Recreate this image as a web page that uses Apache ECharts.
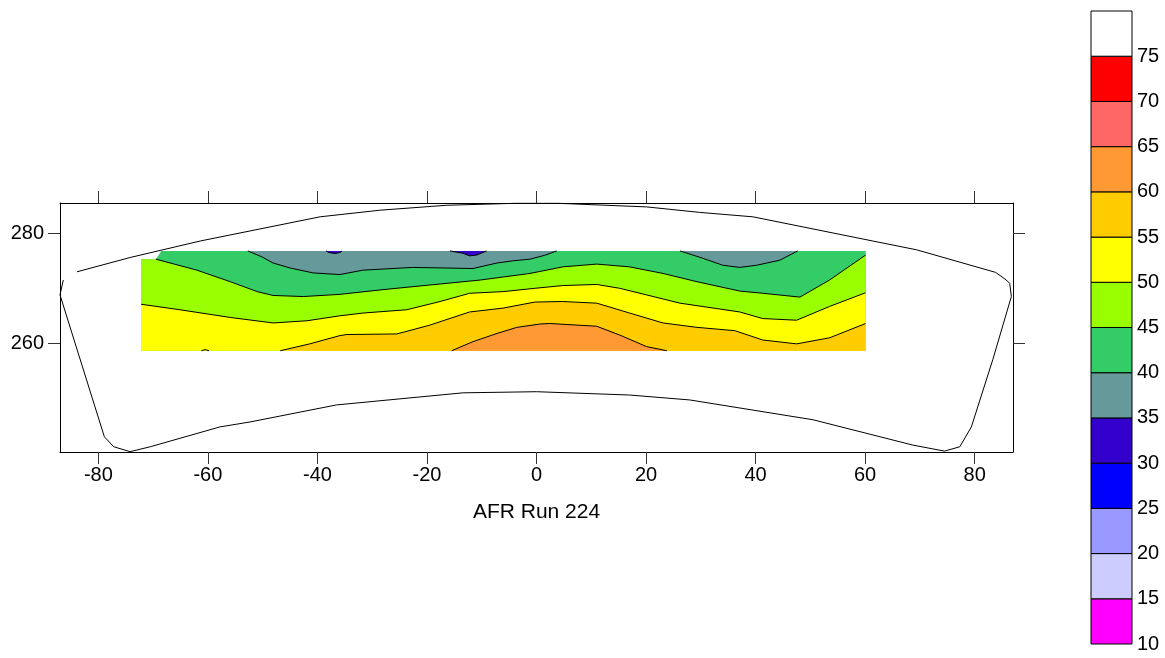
<!DOCTYPE html>
<html><head><meta charset="utf-8">
<script src="https://cdn.jsdelivr.net/npm/echarts@6/dist/echarts.min.js"></script>
<style>html,body{margin:0;padding:0;background:#fff}#c{width:1165px;height:658px}</style>
</head><body><div id="c"></div>
<script>
// ---- axes ----
const xTicks = [-80, -60, -40, -20, 0, 20, 40, 60, 80];
const yTicks = [260, 280];
const xRange = [-87, 87];
const yRange = [240.24, 285.51];
const xTitle = 'AFR Run 224';

// ---- colour scale ----
const levels = [10, 15, 20, 25, 30, 35, 40, 45, 50, 55, 60, 65, 70, 75, 80];
const levelColors = ['#FF00FF', '#CCCCFF', '#9999FF', '#0000FF', '#3300CC', '#669999', '#33CC66',
                     '#99FF00', '#FFFF00', '#FFCC00', '#FF9933', '#FF6666', '#FF0000', '#FFFFFF'];

// ---- extent of gridded data ----
const dataX = [-72.2, 60.1];
const dataY = [258.65, 276.8];
const notch = [[-72.2, 275.3], [-69.5, 275.3], [-68.5, 276.8]];

// ---- contour lines (x, y) ----
const c35a = [[-38.4, 276.8], [-37.9, 276.5], [-36.8, 276.33], [-35.9, 276.5], [-35.5, 276.8]];
const c35b = [[-15.8, 276.8], [-13.4, 276.36], [-12.2, 275.9], [-10.9, 276.05], [-9.1, 276.8]];
const c40a = [[-52.7, 276.8], [-50.1, 275.7], [-48.1, 274.6], [-45.0, 273.7], [-40.8, 272.8], [-35.9, 272.5],
              [-31.7, 273.3], [-22.6, 273.8], [-11.6, 273.6], [-7.2, 274.6], [-4.3, 275.0], [-1.2, 275.3],
              [1.5, 276.0], [3.7, 276.8]];
const c40b = [[26.2, 276.8], [30.4, 275.45], [34.0, 274.2], [37.1, 273.8], [40.2, 274.2], [44.4, 275.1], [47.7, 276.8]];
const c45 = [[-69.5, 275.3], [-62.0, 273.3], [-55.9, 271.2], [-51.0, 269.4], [-48.1, 268.7], [-42.6, 268.5],
             [-35.9, 268.9], [-28.6, 269.7], [-19.5, 270.6], [-10.3, 271.5], [-1.2, 272.7], [4.8, 273.9],
             [11.0, 274.4], [17.0, 273.9], [23.1, 272.7], [29.3, 271.2], [37.1, 269.5], [41.3, 269.1],
             [48.1, 268.4], [53.5, 271.5], [60.1, 276.05]];
const c50 = [[-72.2, 267.1], [-65.1, 266.1], [-55.9, 264.7], [-48.1, 263.7], [-41.9, 264.1], [-35.9, 265.0],
             [-31.7, 265.5], [-23.7, 266.1], [-17.6, 267.6], [-12.2, 269.1], [-6.1, 269.4], [-0.3, 270.0],
             [4.8, 270.5], [11.0, 270.7], [15.2, 270.0], [20.1, 268.8], [26.2, 267.3], [37.1, 265.7],
             [41.3, 264.5], [47.5, 264.2], [53.5, 266.7], [60.1, 269.2]];
const c55 = [[-46.8, 258.65], [-41.4, 259.9], [-35.9, 261.4], [-34.6, 261.6], [-25.5, 261.7], [-19.5, 263.3],
             [-12.2, 265.7], [-6.1, 266.4], [-0.3, 267.5], [4.8, 267.6], [11.0, 267.3], [17.0, 265.5],
             [23.1, 263.7], [29.3, 262.9], [36.2, 262.3], [41.3, 260.6], [47.5, 259.9], [53.5, 261.0],
             [60.1, 263.6]];
const c55b = [[-61.2, 258.65], [-60.5, 258.85], [-59.8, 258.65]];
const c60 = [[-15.5, 258.65], [-11.6, 260.3], [-7.2, 261.8], [-3.6, 262.9], [0.6, 263.5], [2.4, 263.6],
             [11.0, 263.1], [15.2, 261.5], [20.1, 259.4], [23.8, 258.65]];

// ---- outline of the measured region ----
const outline = [[-83.9, 273.0], [-74.2, 275.6], [-61.4, 278.6], [-39.5, 283.0], [-28.6, 284.2], [-16.4, 285.1],
                 [-4, 285.45], [4, 285.45], [20.1, 284.8], [29.8, 283.8], [39.5, 283.0], [61.4, 278.6],
                 [69.4, 277.0], [83.8, 272.9], [85.8, 271.5], [86.4, 270.9], [86.7, 268.5], [83.3, 257.0],
                 [79.4, 244.8], [77.3, 241.2], [74.5, 240.4], [68.7, 241.5], [50.5, 246.1], [28.0, 249.7],
                 [17.0, 250.6], [0, 251.2], [-13.4, 251.0], [-36.5, 248.8], [-52.3, 245.7], [-57.8, 244.8],
                 [-70.5, 241.2], [-74.2, 240.3], [-77.2, 241.2], [-78.9, 243.0], [-87.0, 268.8], [-86.4, 271.5]];

// ---- build fill polygons (painter's order) ----
function colorOf(lo) { return levelColors[levels.indexOf(lo)]; }
const [x0, x1] = dataX, [y0, y1] = dataY;
const basePoly = notch.concat([[x1, y1], [x1, y0], [x0, y0]]);
const fills = [
  { pts: basePoly, color: colorOf(40) },
  { pts: c40a, color: colorOf(35) },
  { pts: c40b, color: colorOf(35) },
  { pts: c35a, color: colorOf(30) },
  { pts: c35b, color: colorOf(30) },
  { pts: c45.concat([[x1, y0], [x0, y0], notch[0]]), color: colorOf(45) },
  { pts: c50.concat([[x1, y0], [x0, y0]]), color: colorOf(50) },
  { pts: c55.concat([[x1, y0]]), color: colorOf(55) },
  { pts: c60, color: colorOf(60) }
];
const contourLines = [c35a, c35b, c40a, c40b, c45, c50, c55, c55b, c60];

const FONT = 'Liberation Sans, Arial, sans-serif';
const chart = echarts.init(document.getElementById('c'), null, { renderer: 'canvas' });

const lineSeries = contourLines.map(d => ({
  type: 'line', xAxisIndex: 0, yAxisIndex: 0, data: d, symbol: 'none', silent: true, z: 4,
  lineStyle: { color: '#000', width: 1 }, clip: false, animation: false
}));

chart.setOption({
  animation: false,
  grid: [
    { left: 60, top: 203, width: 953, height: 249 },
    { left: 1091, top: 11, width: 41, height: 633 }
  ],
  xAxis: [
    { gridIndex: 0, type: 'value', min: xRange[0], max: xRange[1], position: 'bottom',
      axisLine: { show: true, onZero: false, lineStyle: { color: '#000', width: 1 } },
      axisTick: { show: true, customValues: xTicks, length: 12, lineStyle: { color: '#333' } },
      axisLabel: { customValues: xTicks, fontSize: 20, margin: 13, color: '#000', fontFamily: FONT },
      splitLine: { show: false },
      name: xTitle, nameLocation: 'middle', nameGap: 50,
      nameTextStyle: { fontSize: 21, color: '#000', fontFamily: FONT } },
    { gridIndex: 0, type: 'value', min: xRange[0], max: xRange[1], position: 'top',
      axisLine: { show: true, onZero: false, lineStyle: { color: '#000', width: 1 } },
      axisTick: { show: true, customValues: xTicks, length: 12, lineStyle: { color: '#333' } },
      axisLabel: { show: false }, splitLine: { show: false } },
    { gridIndex: 1, type: 'value', min: 0, max: 1, show: false }
  ],
  yAxis: [
    { gridIndex: 0, type: 'value', min: yRange[0], max: yRange[1], position: 'left',
      axisLine: { show: true, onZero: false, lineStyle: { color: '#000', width: 1 } },
      axisTick: { show: true, customValues: yTicks, length: 12, lineStyle: { color: '#333' } },
      axisLabel: { customValues: yTicks, fontSize: 20, margin: 16, color: '#000', fontFamily: FONT,
                   padding: [5, 0, 0, 0] },
      splitLine: { show: false } },
    { gridIndex: 0, type: 'value', min: yRange[0], max: yRange[1], position: 'right',
      axisLine: { show: true, onZero: false, lineStyle: { color: '#000', width: 1 } },
      axisTick: { show: true, customValues: yTicks, length: 12, lineStyle: { color: '#333' } },
      axisLabel: { show: false }, splitLine: { show: false } },
    { gridIndex: 1, type: 'value', min: levels[0], max: levels[levels.length - 1], interval: 5, position: 'right',
      axisLine: { show: false }, axisTick: { show: false }, splitLine: { show: false },
      axisLabel: { fontSize: 20, margin: 5, color: '#000', fontFamily: FONT, padding: [4, 0, 0, 0],
        formatter: v => (v === levels[levels.length - 1] ? '' : String(v)) } }
  ],
  series: [
    { type: 'custom', xAxisIndex: 0, yAxisIndex: 0, silent: true, z: 2, clip: false,
      data: fills.map((f, i) => [i]),
      encode: { x: 0 },
      renderItem: (params, api) => {
        const f = fills[params.dataIndex];
        return { type: 'polygon', shape: { points: f.pts.map(p => api.coord(p)) },
                 style: { fill: f.color, stroke: null } };
      } },
    { type: 'line', xAxisIndex: 0, yAxisIndex: 0, data: outline, symbol: 'none', silent: true, z: 4,
      lineStyle: { color: '#000', width: 1 }, clip: false },
    ...lineSeries,
    { type: 'custom', xAxisIndex: 2, yAxisIndex: 2, silent: true, z: 2,
      data: levels.slice(0, -1).map((lo, i) => [0, lo, levels[i + 1]]),
      encode: { x: 0, y: [1, 2] },
      renderItem: (params, api) => {
        const lo = api.value(1), hi = api.value(2);
        const a = api.coord([0, hi]), b = api.coord([1, lo]);
        return { type: 'rect', shape: { x: a[0], y: a[1], width: b[0] - a[0], height: b[1] - a[1] },
                 style: { fill: levelColors[params.dataIndex], stroke: '#000', lineWidth: 1 } };
      } }
  ]
});
</script></body></html>
